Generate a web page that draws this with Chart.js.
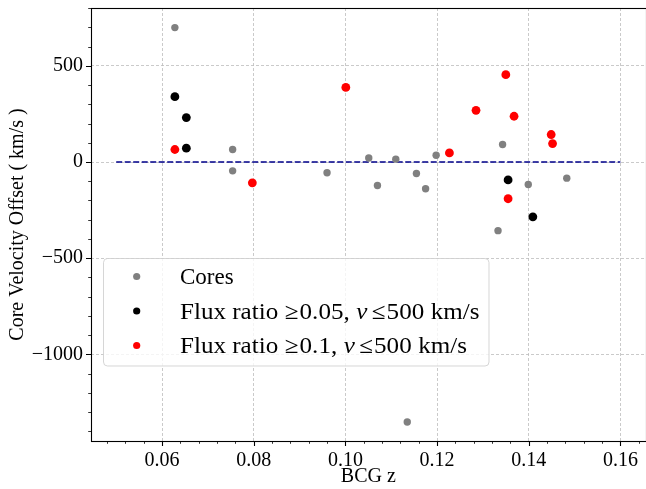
<!DOCTYPE html>
<html>
<head>
<meta charset="utf-8">
<script src="https://cdn.jsdelivr.net/npm/chart.js@4.4.0/dist/chart.umd.min.js"></script>
<style>
  html, body { margin: 0; padding: 0; background: #fff; overflow: hidden; }
  #chart { display: block; }
</style>
</head>
<body>
<canvas id="chart" width="650" height="489"></canvas>
<script>
// data
const coreZ = [0.0628, 0.0754, 0.0754, 0.0960, 0.1051, 0.1070, 0.1110, 0.1155, 0.1175, 0.1198, 0.1343, 0.1399, 0.1483, 0.1333, 0.1135];
const coreV = [699, 65, -46, -56, 21, -122, 15, -60, -139, 35, 91, -117, -84, -357, -1352];

const flux05Z = [0.0628, 0.0653, 0.0653, 0.1355, 0.1409];
const flux05V = [340, 231, 72, -93, -285];

const flux10Z = [0.0628, 0.0797, 0.1001, 0.1227, 0.1285, 0.1350, 0.1368, 0.1449, 0.1452, 0.1355];
const flux10V = [65, -108, 388, 47, 269, 454, 238, 143, 96, -191];

const zeroLineZ = [0.05, 0.16];
const zeroLineV = [0, 0];

const xTicks = [0.06, 0.08, 0.10, 0.12, 0.14, 0.16];
const xTickLabels = ['0.06', '0.08', '0.10', '0.12', '0.14', '0.16'];
const yTicks = [-1000, -500, 0, 500];
const yTickLabels = ['\u22121000', '\u2212500', '0', '500'];
const xMinorStep = 0.004;
const yMinorStep = 100;

const seriesLabels = ['Cores', 'Flux ratio \u22650.05, v \u2264500 km/s', 'Flux ratio \u22650.1, v \u2264500 km/s'];

const serif = "'Liberation Serif', 'Times New Roman', serif";

const pts = (xs, ys) => xs.map((x, i) => ({ x: x, y: ys[i] }));

// legend text in pieces so the v can be italic; g = gap before the piece
const legendPieces = [
    [{ t: 'Cores', g: 0 }],
    [{ t: 'Flux ratio', g: 0 }, { t: '\u2265', g: 6 }, { t: '0.05,', g: 1 },
     { t: 'v', g: 6, it: true }, { t: '\u2264', g: 4 }, { t: '500', g: 1 }, { t: 'km/s', g: 6 }],
    [{ t: 'Flux ratio', g: 0 }, { t: '\u2265', g: 6 }, { t: '0.1,', g: 1 },
     { t: 'v', g: 6, it: true }, { t: '\u2264', g: 4 }, { t: '500', g: 1 }, { t: 'km/s', g: 6 }]
];

const framePlugin = {
    id: 'frame',
    afterDraw(chart) {
        const ctx = chart.ctx;
        const a = chart.chartArea;
        const xs = chart.scales.x, ys = chart.scales.y;
        ctx.save();
        ctx.strokeStyle = '#000';

        // minor ticks
        ctx.lineWidth = 0.8;
        ctx.beginPath();
        for (let k = Math.ceil(xs.min / xMinorStep); k * xMinorStep <= xs.max; k++) {
            const px = Math.round(xs.getPixelForValue(k * xMinorStep)) + 0.5;
            ctx.moveTo(px, a.bottom); ctx.lineTo(px, a.bottom + 2.8);
        }
        for (let k = Math.ceil(ys.min / yMinorStep); k * yMinorStep <= ys.max; k++) {
            const py = Math.round(ys.getPixelForValue(k * yMinorStep)) + 0.5;
            ctx.moveTo(a.left, py); ctx.lineTo(a.left - 2.8, py);
        }
        ctx.stroke();

        // major ticks
        ctx.lineWidth = 1.1;
        ctx.beginPath();
        xTicks.forEach(v => {
            const px = Math.round(xs.getPixelForValue(v)) + 0.5;
            ctx.moveTo(px, a.bottom); ctx.lineTo(px, a.bottom + 5);
        });
        yTicks.forEach(v => {
            const py = Math.round(ys.getPixelForValue(v)) + 0.5;
            ctx.moveTo(a.left, py); ctx.lineTo(a.left - 5, py);
        });
        ctx.stroke();

        // spines
        ctx.lineWidth = 1.1;
        ctx.strokeRect(Math.round(a.left) + 0.5, Math.round(a.top) + 0.5,
            Math.round(a.right - a.left), Math.round(a.bottom - a.top));

        // legend
        const bx = 103.5, by = 258.5, bw = 385.5, bh = 107.5;
        ctx.beginPath();
        if (ctx.roundRect) ctx.roundRect(bx, by, bw, bh, 4); else ctx.rect(bx, by, bw, bh);
        ctx.fillStyle = 'rgba(255,255,255,0.8)';
        ctx.fill();
        ctx.strokeStyle = 'rgba(204,204,204,0.8)';
        ctx.lineWidth = 1;
        ctx.stroke();

        const rowsY = [284, 318.5, 353];
        const ds = chart.data.datasets;
        for (let i = 0; i < 3; i++) {
            ctx.fillStyle = ds[i].backgroundColor;
            ctx.beginPath();
            ctx.arc(136.7, rowsY[i] - 7.5, 3.6, 0, Math.PI * 2);
            ctx.fill();
            ctx.fillStyle = '#000';
            ctx.textBaseline = 'alphabetic';
            ctx.textAlign = 'left';
            const sx = i === 0 ? 1 : 1.09;
            ctx.save();
            ctx.translate(180, rowsY[i]);
            ctx.scale(sx, 1);
            let cx = 0;
            legendPieces[i].forEach(p => {
                ctx.font = (p.it ? 'italic ' : '') + '23px ' + serif;
                cx += p.g;
                ctx.fillText(p.t, cx, 0);
                cx += ctx.measureText(p.t).width;
            });
            ctx.restore();
        }
        ctx.restore();
    }
};

const tickFont = { family: serif, size: 20 };

new Chart(document.getElementById('chart'), {
    type: 'scatter',
    data: {
        datasets: [
            { label: seriesLabels[0], data: pts(coreZ, coreV), backgroundColor: '#808080',
              pointRadius: 3.7, pointBorderWidth: 0, order: 2 },
            { label: seriesLabels[1], data: pts(flux05Z, flux05V), backgroundColor: '#000000',
              pointRadius: 4.4, pointBorderWidth: 0, order: 1 },
            { label: seriesLabels[2], data: pts(flux10Z, flux10V), backgroundColor: '#ff0000',
              pointRadius: 4.4, pointBorderWidth: 0, order: 0 },
            { label: 'zero', data: pts(zeroLineZ, zeroLineV), showLine: true, borderColor: '#00008b',
              borderWidth: 1.5, borderDash: [6, 2.5], pointRadius: 0, fill: false, order: 3 }
        ]
    },
    options: {
        responsive: false,
        animation: false,
        events: [],
        layout: { padding: { top: 8, right: 2.4, bottom: 0, left: 0 } },
        plugins: { legend: { display: false }, tooltip: { enabled: false } },
        scales: {
            x: {
                type: 'linear', min: 0.0445, max: 0.1655,
                afterBuildTicks: s => { s.ticks = xTicks.map(v => ({ value: v })); },
                afterFit: s => { s.height = 48; s.paddingLeft = 0; s.paddingRight = 0; },
                ticks: { callback: (v, i) => xTickLabels[i], font: tickFont, color: '#000',
                         padding: 3, maxRotation: 0, autoSkip: false },
                grid: { color: '#bdbdbd', lineWidth: 0.8, tickLength: 5, tickColor: 'rgba(0,0,0,0)' },
                border: { display: false, dash: [3, 2] },
                title: { display: true, text: 'BCG z', font: { family: serif, size: 20 }, color: '#000',
                         padding: { top: 0, bottom: 0 } }
            },
            y: {
                type: 'linear', min: -1451, max: 801,
                afterBuildTicks: s => { s.ticks = yTicks.map(v => ({ value: v })); },
                afterFit: s => { s.width = 91; s.paddingTop = 0; s.paddingBottom = 0; },
                ticks: { callback: (v, i) => yTickLabels[i], font: tickFont, color: '#000',
                         padding: 3, autoSkip: false },
                grid: { color: '#bdbdbd', lineWidth: 0.8, tickLength: 5, tickColor: 'rgba(0,0,0,0)' },
                border: { display: false, dash: [3, 2] },
                title: { display: true, text: 'Core Velocity Offset ( km/s )', font: { family: serif, size: 20 },
                         color: '#000', padding: { top: 6, bottom: 0 } }
            }
        }
    },
    plugins: [framePlugin]
});
</script>
</body>
</html>
